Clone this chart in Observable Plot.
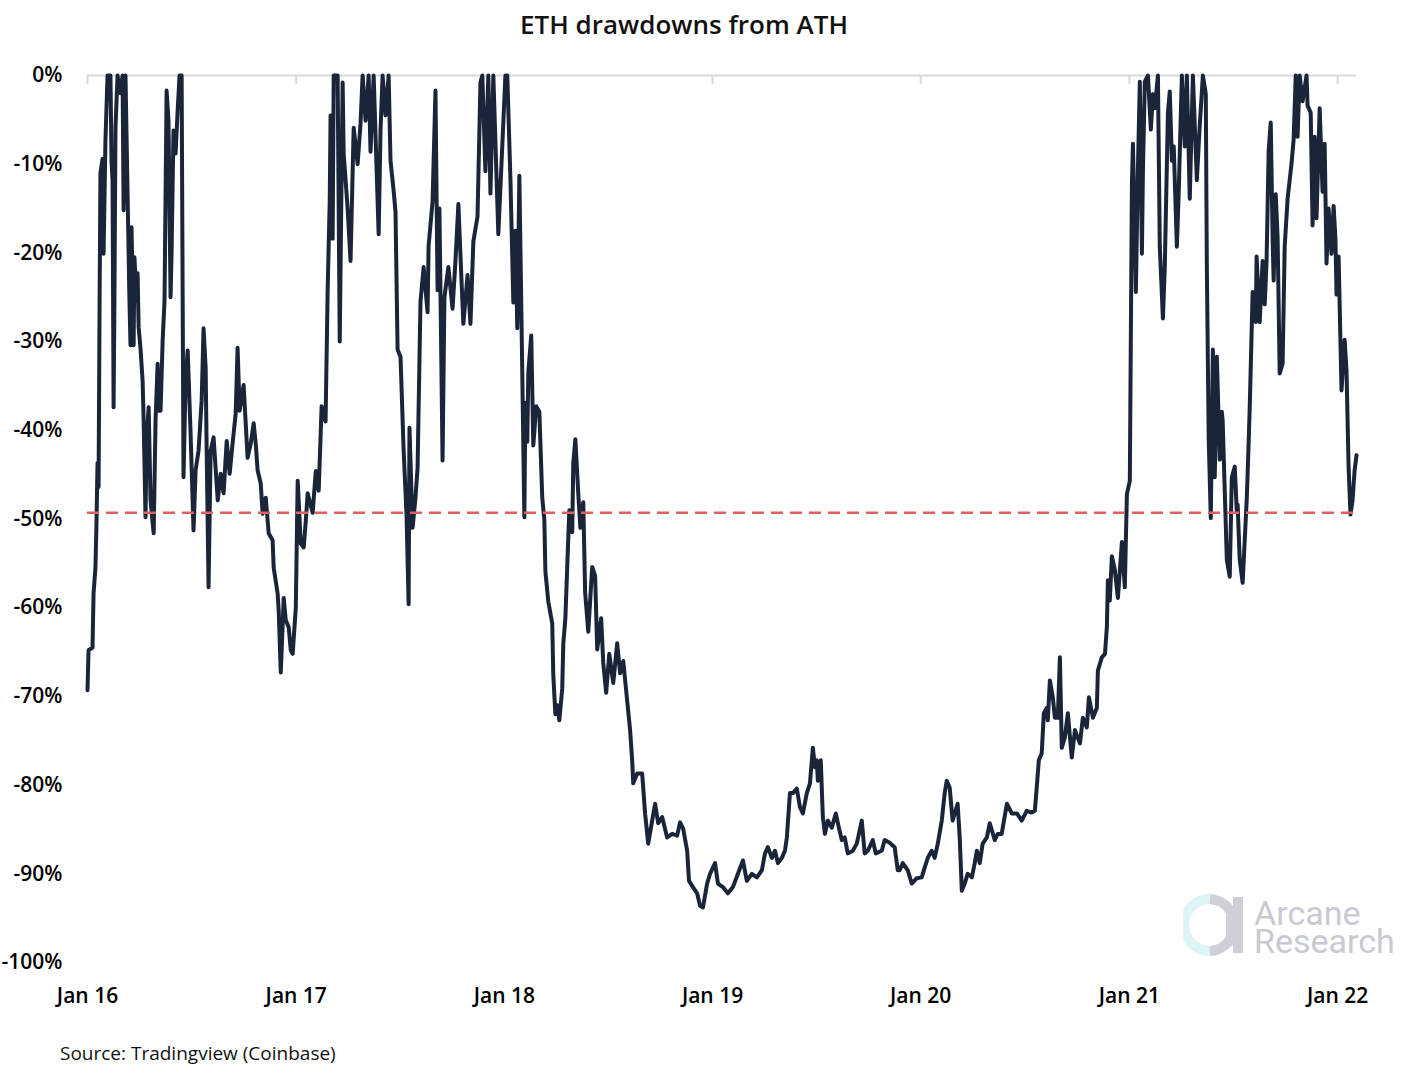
<!DOCTYPE html>
<html>
<head>
<meta charset="utf-8">
<script src="https://cdn.jsdelivr.net/npm/d3@7"></script>
<script src="https://cdn.jsdelivr.net/npm/@observablehq/plot@0.6"></script>
<style>
  html, body { margin: 0; padding: 0; background: #fff; }
  body { width: 1412px; height: 1074px; position: relative; overflow: hidden; font-family: "Open Sans", "Noto Sans", sans-serif; }
  #title { position: absolute; left: 0; top: 6px; width: 1368px; text-align: center; font-size: 26px; font-weight: 600; color: #111; }
  #chart { position: absolute; left: 0; top: 50px; }
  #caption { position: absolute; left: 60px; top: 1040px; font-size: 19px; color: #111; }
  #wmlogo { position: absolute; left: 1183px; top: 892px; }
  #wmtext { position: absolute; left: 1254px; top: 899px; font-family: Roboto, Arial, sans-serif; font-size: 34px; line-height: 28px; color: #c9cad1; white-space: pre-line; }
</style>
</head>
<body>
<div id="title">ETH drawdowns from ATH</div>
<div id="chart"></div>
<div id="caption">Source: Tradingview (Coinbase)</div>
<div id="wmlogo">
  <svg width="64" height="70" viewBox="0 0 64 70">
    <path d="M27 7 A26 26 0 0 0 27 59" fill="none" stroke="#dcf4f4" stroke-width="10"/>
    <path d="M27 7 A26 26 0 0 1 48 20 L48 46 A26 26 0 0 1 27 59" fill="none" stroke="#cfd0d7" stroke-width="10"/>
    <rect x="50" y="5" width="10" height="56" fill="#cfd0d7"/>
  </svg>
</div>
<div id="wmtext"></div>
<script>
// Time as decimal year
const years = [
2016.000,2016.005,2016.024,2016.029,2016.038,2016.043,2016.048,2016.053,2016.058,2016.062,
2016.072,2016.077,2016.086,2016.096,2016.110,2016.115,2016.120,2016.125,2016.129,2016.134,
2016.144,2016.158,2016.168,2016.173,2016.182,2016.192,2016.201,2016.206,2016.211,2016.221,
2016.225,2016.235,2016.240,2016.245,2016.254,2016.264,2016.269,2016.278,2016.283,2016.293,
2016.302,2016.317,2016.326,2016.336,2016.341,2016.350,2016.360,2016.369,2016.379,2016.388,
2016.398,2016.403,2016.412,2016.422,2016.432,2016.441,2016.451,2016.456,2016.460,2016.470,
2016.480,2016.494,2016.508,2016.518,2016.532,2016.547,2016.556,2016.566,2016.571,2016.580,
2016.590,2016.604,2016.624,2016.638,2016.652,2016.667,2016.681,2016.695,2016.710,2016.719,
2016.729,2016.748,2016.767,2016.782,2016.796,2016.806,2016.815,2016.830,2016.839,2016.854,
2016.868,2016.887,2016.892,2016.911,2016.916,2016.926,2016.940,2016.950,2016.964,2016.974,
2016.983,2016.998,2017.007,2017.022,2017.036,2017.046,2017.055,2017.070,2017.079,2017.094,
2017.108,2017.122,2017.141,2017.151,2017.161,2017.165,2017.175,2017.180,2017.199,2017.209,
2017.223,2017.228,2017.247,2017.261,2017.276,2017.295,2017.309,2017.319,2017.333,2017.348,
2017.357,2017.372,2017.396,2017.405,2017.415,2017.429,2017.444,2017.453,2017.468,2017.477,
2017.487,2017.501,2017.516,2017.530,2017.540,2017.544,2017.559,2017.573,2017.583,2017.597,
2017.612,2017.631,2017.636,2017.655,2017.669,2017.679,2017.688,2017.703,2017.712,2017.731,
2017.751,2017.765,2017.779,2017.794,2017.803,2017.823,2017.837,2017.851,2017.871,2017.885,
2017.894,2017.909,2017.923,2017.933,2017.947,2017.971,2017.990,2018.005,2018.014,2018.029,
2018.043,2018.053,2018.062,2018.072,2018.086,2018.096,2018.101,2018.110,2018.115,2018.129,
2018.139,2018.153,2018.168,2018.182,2018.192,2018.197,2018.211,2018.230,2018.235,2018.245,
2018.254,2018.264,2018.278,2018.283,2018.293,2018.302,2018.312,2018.326,2018.331,2018.341,
2018.355,2018.365,2018.379,2018.388,2018.403,2018.422,2018.436,2018.446,2018.465,2018.475,
2018.489,2018.504,2018.523,2018.542,2018.556,2018.571,2018.590,2018.604,2018.614,2018.619,
2018.638,2018.662,2018.676,2018.691,2018.710,2018.724,2018.739,2018.758,2018.782,2018.806,
2018.830,2018.844,2018.859,2018.878,2018.887,2018.906,2018.926,2018.940,2018.954,2018.974,
2018.988,2019.012,2019.026,2019.050,2019.074,2019.098,2019.122,2019.146,2019.165,2019.189,
2019.213,2019.237,2019.252,2019.266,2019.285,2019.300,2019.314,2019.333,2019.348,2019.357,
2019.372,2019.386,2019.405,2019.420,2019.434,2019.453,2019.468,2019.482,2019.492,2019.501,
2019.506,2019.520,2019.530,2019.540,2019.554,2019.573,2019.592,2019.607,2019.621,2019.635,
2019.650,2019.674,2019.693,2019.717,2019.731,2019.746,2019.770,2019.784,2019.813,2019.827,
2019.851,2019.875,2019.890,2019.899,2019.914,2019.938,2019.957,2019.981,2020.005,2020.019,
2020.034,2020.053,2020.067,2020.082,2020.101,2020.115,2020.125,2020.139,2020.153,2020.163,
2020.177,2020.187,2020.197,2020.211,2020.225,2020.245,2020.259,2020.269,2020.283,2020.297,
2020.317,2020.331,2020.355,2020.369,2020.388,2020.413,2020.437,2020.461,2020.484,2020.508,
2020.532,2020.547,2020.556,2020.566,2020.580,2020.590,2020.604,2020.609,2020.619,2020.633,
2020.643,2020.657,2020.667,2020.676,2020.691,2020.705,2020.724,2020.739,2020.763,2020.777,
2020.796,2020.806,2020.825,2020.844,2020.849,2020.868,2020.883,2020.892,2020.897,2020.906,
2020.916,2020.930,2020.945,2020.964,2020.978,2020.988,2021.002,2021.012,2021.017,2021.031,
2021.041,2021.050,2021.060,2021.065,2021.074,2021.089,2021.103,2021.113,2021.122,2021.137,
2021.146,2021.161,2021.170,2021.185,2021.194,2021.204,2021.213,2021.228,2021.237,2021.252,
2021.266,2021.276,2021.290,2021.305,2021.324,2021.338,2021.353,2021.367,2021.372,2021.381,
2021.391,2021.401,2021.410,2021.420,2021.434,2021.444,2021.448,2021.458,2021.468,2021.482,
2021.492,2021.506,2021.516,2021.520,2021.530,2021.544,2021.564,2021.568,2021.578,2021.592,
2021.607,2021.611,2021.626,2021.640,2021.650,2021.659,2021.669,2021.679,2021.688,2021.693,
2021.703,2021.712,2021.722,2021.736,2021.746,2021.760,2021.779,2021.789,2021.799,2021.808,
2021.818,2021.832,2021.851,2021.856,2021.871,2021.880,2021.890,2021.899,2021.914,2021.928,
2021.938,2021.947,2021.957,2021.971,2021.981,2021.990,2021.995,2022.005,2022.019,2022.034,
2022.043,2022.053,2022.062,2022.072,2022.082,2022.091
];
// Drawdown from all-time high, percent
const drawdown = [
-69.3,-64.8,-64.5,-58.4,-55.5,-50.5,-43.7,-46.4,-25.4,-11.0,
-9.4,-20.1,-7.3,0,0,-9.6,-11.8,-37.4,-25.4,-5.9,
0,-2.0,0,-15.2,0,-13.3,-25.4,-30.4,-17.1,-30.4,
-20.5,-25.4,-22.3,-28.4,-30.8,-34.4,-38.9,-49.8,-41.2,-37.4,
-47.9,-51.6,-38.9,-32.5,-37.8,-37.8,-29.9,-25.4,-1.7,-5.1,
-25.0,-19.7,-6.2,-8.8,-3.9,0,0,-25.4,-45.3,-34.4,
-31.0,-40.4,-51.3,-44.5,-42.3,-36.6,-28.5,-32.9,-42.3,-57.7,
-42.3,-40.8,-47.9,-44.9,-47.1,-41.2,-44.9,-41.5,-38.1,-30.7,
-37.8,-34.9,-43.1,-41.5,-39.2,-41.5,-44.5,-46.0,-49.4,-47.6,
-51.6,-52.4,-55.5,-58.4,-60.3,-67.3,-58.9,-61.4,-62.2,-64.8,
-65.2,-60.0,-45.7,-52.8,-53.2,-50.2,-47.1,-48.5,-49.3,-44.6,
-46.8,-37.3,-39.0,-24.2,-14.1,-4.5,-18.4,0,0,-30.0,
-0.8,-8.8,-15.0,-20.9,-5.9,-10.0,-5.4,0,-5.1,0,
-8.6,0,-17.9,-6.2,0,-4.5,0,-9.6,-13.0,-15.4,
-30.9,-31.7,-42.2,-49.6,-59.6,-39.7,-51.0,-47.6,-44.2,-25.5,
-21.6,-26.7,-19.2,-14.2,-1.7,-24.2,-15.0,-43.4,-25.0,-21.6,
-26.3,-20.9,-14.5,-23.1,-28.0,-22.5,-28.0,-18.7,-15.9,-0.8,
0,-10.8,0,-13.3,0,-17.9,-7.9,0,0,-11.6,
-25.6,-17.5,-28.5,-11.3,-33.5,-49.8,-36.9,-41.3,-33.5,-29.3,
-41.7,-37.3,-37.9,-47.6,-50.1,-55.9,-59.3,-61.8,-67.6,-72.0,
-71.0,-72.7,-69.1,-64.1,-61.2,-55.4,-49.0,-51.5,-43.7,-41.0,
-47.1,-51.0,-48.1,-58.3,-62.7,-55.4,-56.4,-64.7,-61.2,-66.2,
-69.6,-65.2,-68.5,-64.0,-67.4,-66.0,-70.5,-73.8,-77.2,-79.8,
-78.7,-78.7,-83.2,-86.6,-84.0,-82.1,-84.3,-83.6,-85.9,-85.5,
-85.7,-84.2,-84.9,-87.4,-90.8,-91.5,-92.2,-93.6,-93.8,-91.1,
-90.0,-88.8,-91.1,-91.5,-92.2,-91.5,-90.0,-88.5,-90.8,-90.0,
-90.4,-89.6,-87.7,-87.0,-88.2,-87.4,-88.8,-88.2,-87.4,-85.9,
-80.9,-80.9,-80.4,-82.5,-83.2,-80.9,-79.8,-75.8,-78.0,-77.2,
-79.5,-77.2,-83.6,-85.5,-84.0,-84.8,-83.2,-84.8,-86.2,-85.9,
-87.7,-87.4,-86.6,-84.0,-87.7,-87.4,-86.2,-87.7,-87.4,-86.2,
-86.5,-87.0,-89.6,-89.6,-88.8,-89.6,-91.1,-90.5,-90.4,-89.3,
-88.2,-87.4,-88.2,-86.6,-84.0,-80.9,-79.5,-80.3,-84.0,-83.2,
-82.1,-85.9,-91.9,-91.1,-90.0,-90.4,-88.8,-87.4,-88.8,-86.6,
-85.9,-84.3,-86.2,-85.5,-85.5,-82.1,-83.2,-83.2,-84.0,-82.9,
-83.1,-82.9,-80.3,-77.2,-76.4,-71.9,-71.3,-72.7,-68.2,-70.1,
-72.4,-72.4,-65.6,-75.8,-74.6,-71.9,-76.9,-73.8,-75.3,-72.4,
-73.5,-70.1,-72.4,-71.3,-67.1,-65.6,-65.2,-62.2,-56.9,-59.2,
-54.2,-55.7,-58.9,-52.6,-57.7,-47.2,-45.7,-12.3,-7.7,-24.4,
-10.4,-0.7,-20.1,-10.7,-0.7,0,-6.1,-2.1,-3.7,0,
-19.3,-27.4,-21.6,-4.2,-1.8,-9.6,-8.0,-19.3,-13.1,0,
-8.0,0,-13.9,0,-11.8,-5.6,0,-2.1,-21.6,-41.0,
-49.9,-30.9,-45.3,-31.7,-43.3,-37.9,-38.9,-46.8,-54.6,-56.5,
-45.3,-44.1,-49.2,-48.4,-54.6,-57.2,-47.6,-44.9,-37.5,-24.4,
-27.8,-20.4,-27.8,-20.9,-25.8,-20.9,-8.5,-5.3,-18.5,-23.1,
-13.4,-18.2,-33.6,-32.5,-19.3,-13.9,-9.9,-7.2,0,-6.9,
0,-2.9,0,-3.4,-4.2,-16.9,-6.9,-16.1,-3.7,-13.1,
-7.7,-21.2,-15.0,-20.1,-14.7,-18.5,-24.7,-20.4,-35.5,-29.8,
-33.3,-44.1,-49.5,-47.9,-44.5,-42.8
];
const thresholdLevel = [-49.3];
const yTicks = [0, -10, -20, -30, -40, -50, -60, -70, -80, -90, -100];
const xTickYears = [2016, 2017, 2018, 2019, 2020, 2021, 2022];

document.getElementById("wmtext").textContent = "Arcane\nResearch";

function toDate(t) {
  const y = Math.floor(t);
  const a = Date.UTC(y, 0, 1), b = Date.UTC(y + 1, 0, 1);
  return new Date(a + (t - y) * (b - a));
}
const series = years.map((t, i) => ({date: toDate(t), dd: drawdown[i]}));
const yearStarts = xTickYears.map(y => new Date(Date.UTC(y, 0, 1)));
const endDate = series[series.length - 1].date;

const chart = Plot.plot({
  width: 1412,
  height: 980,
  marginLeft: 87,
  marginRight: 56,
  marginTop: 25,
  marginBottom: 68,
  style: {fontFamily: "'Open Sans', 'Noto Sans', sans-serif", fontSize: "21px", fontWeight: 600, color: "#000", background: "#fff"},
  x: {type: "utc", domain: [yearStarts[0], endDate], ticks: yearStarts, tickFormat: d => "Jan " + d3.utcFormat("%y")(d), tickSize: 0, tickPadding: 26, label: null},
  y: {domain: [-100, 0], ticks: yTicks, tickFormat: d => `${d}%`, tickSize: 0, tickPadding: 25, label: null},
  marks: [
    Plot.ruleY([0], {x1: yearStarts[0], x2: endDate, stroke: "#d9d9d9", strokeWidth: 2}),
    Plot.ruleX(yearStarts, {y1: 0, y2: -1, stroke: "#d9d9d9", strokeWidth: 2}),
    Plot.line(series, {x: "date", y: "dd", stroke: "#1b2539", strokeWidth: 4, strokeLinejoin: "round", strokeLinecap: "round"}),
    Plot.ruleY(thresholdLevel, {x1: yearStarts[0], x2: endDate, stroke: "#e06060", strokeWidth: 2.4, strokeDasharray: "12,7"})
  ]
});
document.getElementById("chart").appendChild(chart);
</script>
</body>
</html>
